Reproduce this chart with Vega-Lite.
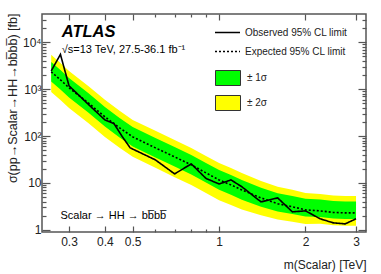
{
  "$schema": "https://vega.github.io/schema/vega-lite/v6.json",
  "autosize": {"type": "none"},
  "width": 324,
  "height": 218,
  "padding": {"left": 42, "top": 14, "right": 15, "bottom": 42},
  "background": "white",
  "config": {
    "font": "Liberation Sans",
    "view": {"stroke": "#555", "strokeWidth": 1.5},
    "axis": {"grid": false, "domain": false, "labelFont": "Liberation Sans", "titleFont": "Liberation Sans", "labelColor": "#222", "titleColor": "#222", "tickColor": "#555", "tickWidth": 1.2, "titleFontWeight": "normal"},
    "legend": {"labelFont": "Liberation Sans", "labelColor": "#222"}
  },
  "datasets": {
    "limits": [
      {"m": 0.26, "exp": 2340, "s1lo": 1450, "s1hi": 3790, "s2lo": 870, "s2hi": 5380},
      {"m": 0.28, "exp": 1580, "s1lo": 980, "s1hi": 2560, "s2lo": 585, "s2hi": 3630},
      {"m": 0.3, "exp": 1066, "s1lo": 661, "s1hi": 1727, "s2lo": 394, "s2hi": 2450},
      {"m": 0.35, "exp": 510, "s1lo": 316, "s1hi": 826, "s2lo": 189, "s2hi": 1173},
      {"m": 0.4, "exp": 257, "s1lo": 159, "s1hi": 416, "s2lo": 95, "s2hi": 591},
      {"m": 0.45, "exp": 150, "s1lo": 93, "s1hi": 243, "s2lo": 56, "s2hi": 345},
      {"m": 0.5, "exp": 96, "s1lo": 60, "s1hi": 156, "s2lo": 36, "s2hi": 221},
      {"m": 0.6, "exp": 56, "s1lo": 35, "s1hi": 91, "s2lo": 21, "s2hi": 129},
      {"m": 0.7, "exp": 36, "s1lo": 22.3, "s1hi": 58.3, "s2lo": 13.3, "s2hi": 82.8},
      {"m": 0.8, "exp": 24.3, "s1lo": 15.1, "s1hi": 39.4, "s2lo": 9.0, "s2hi": 55.9},
      {"m": 0.9, "exp": 16.4, "s1lo": 10.2, "s1hi": 26.6, "s2lo": 6.1, "s2hi": 37.7},
      {"m": 1.0, "exp": 11.6, "s1lo": 7.2, "s1hi": 18.8, "s2lo": 4.3, "s2hi": 26.7},
      {"m": 1.1, "exp": 9.1, "s1lo": 5.6, "s1hi": 14.7, "s2lo": 3.4, "s2hi": 20.9},
      {"m": 1.2, "exp": 7.1, "s1lo": 4.4, "s1hi": 11.5, "s2lo": 2.7, "s2hi": 16.3},
      {"m": 1.4, "exp": 4.8, "s1lo": 3.1, "s1hi": 7.9, "s2lo": 2.06, "s2hi": 11.0},
      {"m": 1.6, "exp": 3.6, "s1lo": 2.45, "s1hi": 6.05, "s2lo": 1.66, "s2hi": 8.3},
      {"m": 1.8, "exp": 3.1, "s1lo": 2.17, "s1hi": 5.27, "s2lo": 1.49, "s2hi": 7.13},
      {"m": 2.0, "exp": 2.67, "s1lo": 1.92, "s1hi": 4.59, "s2lo": 1.34, "s2hi": 6.14},
      {"m": 2.25, "exp": 2.54, "s1lo": 1.88, "s1hi": 4.45, "s2lo": 1.35, "s2hi": 5.84},
      {"m": 2.5, "exp": 2.35, "s1lo": 1.74, "s1hi": 4.11, "s2lo": 1.25, "s2hi": 5.41},
      {"m": 2.75, "exp": 2.3, "s1lo": 1.70, "s1hi": 4.03, "s2lo": 1.22, "s2hi": 5.29},
      {"m": 3.0, "exp": 2.3, "s1lo": 1.70, "s1hi": 4.03, "s2lo": 1.22, "s2hi": 5.29}
    ],
    "observed": [
      {"m": 0.26, "obs": 2450},
      {"m": 0.28, "obs": 5500},
      {"m": 0.3, "obs": 1175},
      {"m": 0.35, "obs": 476},
      {"m": 0.4, "obs": 221},
      {"m": 0.43, "obs": 185},
      {"m": 0.46, "obs": 97},
      {"m": 0.49, "obs": 56},
      {"m": 0.6, "obs": 31},
      {"m": 0.7, "obs": 15.6},
      {"m": 0.8, "obs": 25.5},
      {"m": 0.9, "obs": 12.5},
      {"m": 1.0, "obs": 9.5},
      {"m": 1.1, "obs": 11.6},
      {"m": 1.2, "obs": 8.3},
      {"m": 1.4, "obs": 3.95},
      {"m": 1.6, "obs": 4.8},
      {"m": 1.8, "obs": 2.42},
      {"m": 2.0, "obs": 2.54},
      {"m": 2.25, "obs": 1.72},
      {"m": 2.5, "obs": 1.41},
      {"m": 2.75, "obs": 1.34},
      {"m": 3.0, "obs": 1.72}
    ]
  },
  "resolve": {"axis": {"x": "independent", "y": "independent"}},
  "layer": [
    {
      "data": {"name": "limits"},
      "mark": {"type": "area", "clip": true},
      "encoding": {
        "x": {"field": "m", "type": "quantitative",
          "scale": {"type": "log", "domain": [0.2415, 3.25], "nice": false},
          "axis": {"orient": "bottom", "title": "m(Scalar) [TeV]",
            "values": [0.3, 0.4, 0.5, 0.6, 0.7, 0.8, 0.9, 1, 2, 3],
            "format": "~g",
            "labelExpr": "(datum.value == 0.6 || datum.value == 0.7 || datum.value == 0.8 || datum.value == 0.9) ? '' : datum.label",
            "tickSize": {"condition": {"test": "datum.value == 0.3 || datum.value == 0.4 || datum.value == 0.5 || datum.value == 1 || datum.value == 2 || datum.value == 3", "value": -6}, "value": -3},
            "labelFontSize": 12, "labelPadding": 10, "labelFlush": false, "labelOverlap": false,
            "titleFontSize": 12, "titleAnchor": "end", "titleAlign": "right", "titleBaseline": "middle", "titleX": 324, "titleY": 32}},
        "y": {"field": "s2lo", "type": "quantitative",
          "scale": {"type": "log", "domain": [0.9, 40000], "nice": false},
          "axis": {"orient": "left", "title": "σ(pp→Scalar→HH→bb̅bb̅) [fb]",
            "values": [1,2,3,4,5,6,7,8,9,10,20,30,40,50,60,70,80,90,100,200,300,400,500,600,700,800,900,1000,2000,3000,4000,5000,6000,7000,8000,9000,10000,20000,30000],
            "labelExpr": "datum.value == 1 ? '1' : datum.value == 10 ? '10' : datum.value == 100 ? '10²' : datum.value == 1000 ? '10³' : datum.value == 10000 ? '10⁴' : ''",
            "tickSize": {"condition": {"test": "datum.value == 1 || datum.value == 10 || datum.value == 100 || datum.value == 1000 || datum.value == 10000", "value": -8}, "value": -4},
            "labelFontSize": 12, "labelPadding": 9, "labelOverlap": false, "labelFlush": false,
            "titleFontSize": 12.5, "titleAnchor": "end", "titleAlign": "right", "titleBaseline": "middle", "titleAngle": 270, "titleX": -30, "titleY": -1}},
        "y2": {"field": "s2hi"},
        "fill": {"datum": "± 2σ", "type": "nominal",
          "scale": {"domain": ["± 1σ", "± 2σ"], "range": ["#00ff00", "#ffff00"]},
          "legend": {"orient": "none", "legendX": 173, "legendY": 51, "title": null, "padding": 0,
            "symbolType": "M-1,-0.6H1V0.6H-1Z", "symbolSize": 625, "symbolStrokeColor": "#333", "symbolStrokeWidth": 1,
            "symbolOpacity": 1, "labelFontSize": 10, "labelOffset": 6, "rowPadding": 2}}
      }
    },
    {
      "data": {"name": "limits"},
      "mark": {"type": "area", "clip": true},
      "encoding": {
        "x": {"field": "m", "type": "quantitative",
          "axis": {"orient": "top", "title": null, "labels": false,
            "values": [0.3, 0.4, 0.5, 0.6, 0.7, 0.8, 0.9, 1, 2, 3],
            "tickSize": {"condition": {"test": "datum.value == 0.3 || datum.value == 0.4 || datum.value == 0.5 || datum.value == 1 || datum.value == 2 || datum.value == 3", "value": -6}, "value": -3}}},
        "y": {"field": "s1lo", "type": "quantitative",
          "axis": {"orient": "right", "title": null, "labels": false,
            "values": [1,2,3,4,5,6,7,8,9,10,20,30,40,50,60,70,80,90,100,200,300,400,500,600,700,800,900,1000,2000,3000,4000,5000,6000,7000,8000,9000,10000,20000,30000],
            "tickSize": {"condition": {"test": "datum.value == 1 || datum.value == 10 || datum.value == 100 || datum.value == 1000 || datum.value == 10000", "value": -8}, "value": -4}}},
        "y2": {"field": "s1hi"},
        "fill": {"datum": "± 1σ", "type": "nominal"}
      }
    },
    {
      "data": {"name": "limits"},
      "mark": {"type": "line", "color": "black", "strokeWidth": 1.6, "clip": true},
      "encoding": {
        "x": {"field": "m", "type": "quantitative", "axis": null},
        "y": {"field": "exp", "type": "quantitative", "axis": null},
        "strokeDash": {"datum": "Expected 95% CL limit", "type": "nominal",
          "scale": {"domain": ["Observed 95% CL limit", "Expected 95% CL limit"], "range": [[1, 0], [2, 2]]},
          "legend": {"orient": "none", "legendX": 172, "legendY": 5, "title": null, "padding": 0,
            "symbolType": "stroke", "symbolSize": 625, "symbolStrokeColor": "black", "symbolStrokeWidth": 1.6,
            "labelFontSize": 10, "labelOffset": 4, "rowPadding": -2}}
      }
    },
    {
      "data": {"name": "observed"},
      "mark": {"type": "line", "color": "black", "strokeWidth": 1.6, "clip": true},
      "encoding": {
        "x": {"field": "m", "type": "quantitative", "axis": null},
        "y": {"field": "obs", "type": "quantitative", "axis": null},
        "strokeDash": {"datum": "Observed 95% CL limit", "type": "nominal"}
      }
    },
    {
      "data": {"values": [{}]},
      "mark": {"type": "text", "text": "ATLAS", "font": "Liberation Sans", "fontSize": 16.5, "fontStyle": "italic", "fontWeight": "bold", "align": "left", "baseline": "alphabetic", "color": "black"},
      "encoding": {
        "x": {"datum": 0.283, "type": "quantitative", "axis": null},
        "y": {"datum": 13000, "type": "quantitative", "axis": null}
      }
    },
    {
      "data": {"values": [{}]},
      "mark": {"type": "text", "text": "√s=13 TeV, 27.5-36.1 fb⁻¹", "font": "Liberation Sans", "fontSize": 11, "align": "left", "baseline": "alphabetic", "color": "black"},
      "encoding": {
        "x": {"datum": 0.283, "type": "quantitative", "axis": null},
        "y": {"datum": 5940, "type": "quantitative", "axis": null}
      }
    },
    {
      "data": {"values": [{}]},
      "mark": {"type": "text", "text": "Scalar → HH → bb̅bb̅", "font": "Liberation Sans", "fontSize": 11, "align": "left", "baseline": "alphabetic", "color": "black"},
      "encoding": {
        "x": {"datum": 0.28, "type": "quantitative", "axis": null},
        "y": {"datum": 1.716, "type": "quantitative", "axis": null}
      }
    }
  ]
}
